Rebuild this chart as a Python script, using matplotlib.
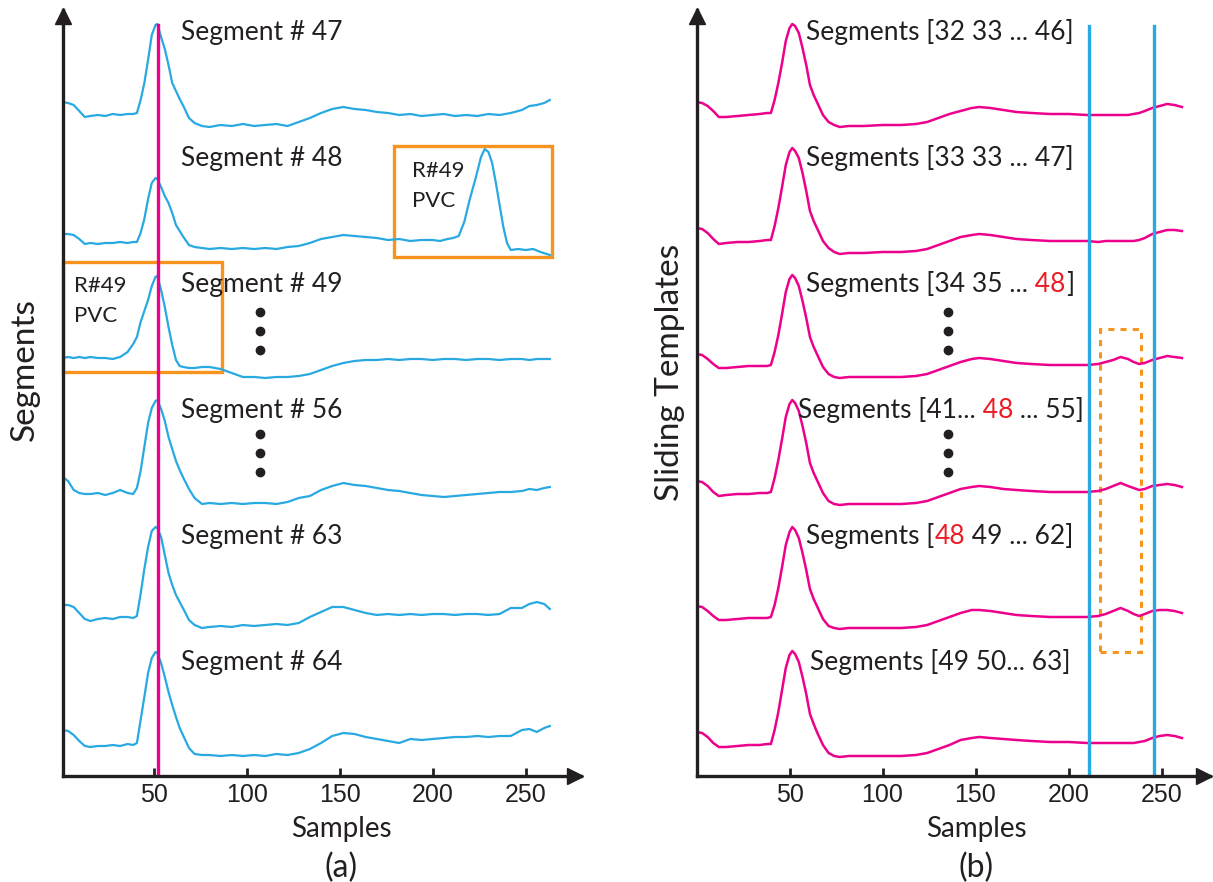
import numpy as np
import matplotlib.pyplot as plt
from matplotlib.transforms import Affine2D
from matplotlib.patches import Rectangle

# ---------------- data ----------------
# left panel: raw ECG segments (amplitude, arbitrary units, baseline ~0)
xl = [1, 4, 7, 10, 13, 16, 20, 24, 28, 32, 36, 39, 41, 43, 45, 47, 49, 51, 52, 54,
      56, 58, 60, 62, 64, 66, 69, 72, 76, 80, 86, 92, 98, 104, 110, 116, 122, 128, 134, 140,
      146, 152, 158, 164, 170, 176, 182, 188, 194, 200, 206, 212, 218, 224, 230, 236, 242, 248, 252, 256,
      260, 263]
seg47 = [13, 12, 10, 4, -2, -1, 0, -1, 1, 0, 1, 1, 2, 15, 32, 55, 80, 90, 91, 78,
         66, 50, 32, 24, 16, 9, -3, -8, -11, -12, -10, -11, -9, -11, -10, -9, -11, -7, -3, 2,
         6, 8, 6, 5, 3, 2, 0, 1, -1, 0, 1, -1, 0, -1, 1, 0, 2, 5, 9, 10,
         12, 15]
xl48 = xl[:50] + [204, 208, 211, 214, 217, 220, 223, 226, 228, 230, 232, 234, 236, 238, 240,
                  242, 246, 250, 254, 258, 263]
seg48 = [7, 7, 6, 2, -3, -2, -3, -2, -2, -1, -2, -1, -1, 8, 22, 42, 58, 63, 62, 54,
         45, 38, 28, 16, 10, 4, -4, -6, -7, -8, -7, -8, -7, -8, -7, -8, -6, -5, -2, 2,
         4, 6, 5, 4, 3, 1, 2, 0, 1, 1,
         0, 2, 3, 5, 19, 42, 62, 84, 92, 89, 78, 58, 36, 14, -2,
         -9, -8, -9, -8, -11, -14]
seg49 = [9, 10, 9, 10, 9, 10, 9, 9, 8, 10, 15, 23, 30, 45, 56, 67, 81, 90, 91, 77,
         60, 40, 22, 7, 1, 0, -1, -1, 0, 0, -2, -6, -10, -10, -11, -10, -10, -9, -7, -3,
         1, 4, 6, 7, 7, 8, 7, 8, 8, 7, 8, 8, 7, 8, 8, 7, 8, 8, 7, 8,
         8, 8]
seg56 = [16, 12, 3, 0, -1, -1, 0, -2, 0, 3, 0, -1, 5, 22, 46, 70, 85, 92, 93, 84,
         72, 56, 44, 32, 23, 15, 4, -5, -11, -10, -11, -10, -11, -10, -10, -11, -9, -5, -3, 3,
         7, 10, 8, 7, 5, 3, 2, 0, -2, -3, -4, -3, -2, -1, 0, 1, 1, 2, 4, 3,
         5, 6]
seg63 = [14, 14, 12, 6, 0, -2, 0, 1, 0, 2, 2, 1, 3, 25, 50, 72, 88, 92, 91, 82,
         64, 46, 34, 24, 17, 10, -1, -6, -9, -8, -7, -8, -6, -7, -6, -5, -6, -4, 2, 7,
         12, 12, 9, 6, 4, 5, 4, 5, 4, 5, 5, 4, 5, 5, 4, 5, 11, 11, 15, 17,
         15, 10]
seg64 = [15, 14, 10, 4, -1, -2, -1, -1, 0, -1, 1, 0, 2, 25, 48, 72, 87, 93, 92, 82,
         68, 53, 40, 28, 17, 9, -3, -9, -10, -10, -11, -10, -11, -10, -11, -9, -10, -8, -4, 2,
         9, 12, 11, 8, 6, 4, 2, 6, 5, 6, 7, 8, 8, 9, 8, 9, 9, 15, 16, 13,
         17, 19]
segments_x = [xl, xl48, xl, xl, xl, xl]
segments_y = [seg47, seg48, seg49, seg56, seg63, seg64]
segment_names = ['Segment # 47', 'Segment # 48', 'Segment # 49',
                 'Segment # 56', 'Segment # 63', 'Segment # 64']

# right panel: sliding templates
xr = [0, 3, 6, 9, 12, 16, 22, 28, 34, 38, 40, 42, 44, 46, 48, 50, 51.5, 53, 55, 57,
      59, 61, 63, 65, 68, 71, 74, 77, 82, 90, 100, 110, 118, 124, 130, 136, 142, 148, 152, 158,
      165, 172, 180, 190, 200, 210, 216, 220, 224, 228, 232, 235, 238, 241, 245, 249, 253, 257, 261]
tmpl1 = [13, 12, 9, 4, -2, -2, -1, 0, 1, 2, 2, 15, 32, 52, 74, 87, 91, 89, 82, 67,
         50, 30, 20, 12, 0, -7, -10, -12, -11, -11, -10, -10, -9, -7, -3, 1, 4, 7, 8, 7,
         5, 3, 2, 1, 1, 0, 0, 0, 0, 0, 0, 1, 2, 4, 7, 9, 11, 10, 8]
tmpl2 = [13, 12, 8, 2, -3, -2, -1, -1, 0, 1, 1, 15, 33, 54, 76, 89, 93, 90, 83, 68,
         50, 30, 20, 12, 0, -7, -11, -13, -12, -12, -11, -11, -10, -8, -4, 0, 4, 6, 7, 6,
         4, 2, 1, 0, 0, 0, -1, 0, 0, 0, 0, 0, 1, 3, 7, 9, 11, 11, 10]
tmpl3 = [13, 12, 8, 3, -1, -1, 0, 1, 1, 1, 2, 15, 32, 53, 75, 88, 92, 89, 81, 66,
         49, 30, 20, 12, 0, -7, -10, -11, -10, -10, -10, -10, -9, -7, -3, 1, 5, 8, 9, 8,
         6, 4, 3, 2, 2, 2, 3, 5, 7, 10, 8, 5, 3, 4, 7, 9, 11, 10, 9]
tmpl4 = [12, 11, 7, 1, -3, -2, -1, -1, 0, 0, 1, 15, 33, 54, 76, 89, 93, 90, 82, 67,
         50, 30, 20, 12, 0, -8, -11, -12, -11, -11, -11, -11, -10, -8, -4, 0, 4, 6, 7, 6,
         4, 3, 2, 1, 1, 1, 2, 4, 7, 10, 7, 5, 3, 4, 7, 8, 9, 8, 6]
tmpl5 = [13, 12, 8, 3, -1, -1, 0, 1, 1, 1, 2, 14, 31, 52, 74, 87, 92, 89, 81, 66,
         49, 30, 20, 12, 0, -7, -9, -10, -9, -9, -9, -9, -8, -6, -2, 2, 6, 9, 9, 8,
         6, 4, 3, 2, 2, 2, 3, 5, 8, 11, 8, 5, 3, 5, 8, 9, 9, 8, 6]
tmpl6 = [13, 12, 8, 2, -2, -2, -1, 0, 0, 1, 1, 15, 33, 55, 77, 90, 94, 91, 83, 68,
         51, 31, 21, 12, 0, -8, -11, -12, -11, -11, -11, -11, -10, -8, -4, 0, 5, 7, 8, 7,
         6, 5, 4, 3, 3, 2, 2, 2, 2, 2, 2, 2, 3, 4, 7, 9, 10, 9, 7]
templates_y = [tmpl1, tmpl2, tmpl3, tmpl4, tmpl5, tmpl6]

k_txt = '#231F20'
red = '#ED1C24'
template_names = [
    [('Segments [32 33 ... 46]', k_txt)],
    [('Segments [33 33 ... 47]', k_txt)],
    [('Segments [34 35 ...', k_txt), (' 48', red), (']', k_txt)],
    [('Segments [41...', k_txt), (' 48', red), (' ... 55]', k_txt)],
    [('Segments [', k_txt), ('48', red), (' 49 ... 62]', k_txt)],
    [('Segments [49 50... 63]', k_txt)],
]
template_label_x = [59.1, 59.1, 59.1, 54.7, 59.1, 61.2]

offsets = [661, 535, 409, 283, 157, 31]
xticks = [50, 100, 150, 200, 250]

blue = '#29A9E1'
magenta = '#EC008C'
orange = '#F7941D'

plt.rcParams['font.family'] = 'Lato'

fig = plt.figure(figsize=(12.13, 8.82), dpi=100)
W, H = 1213, 882
# x pixel = 60.6 + 1.86*s (left), 696.5 + 1.86*s (right)
axL = fig.add_axes([62.5 / W, 106 / H, 1.86 * 279 / W, 766 / H])
axR = fig.add_axes([696.5 / W, 106 / H, 1.86 * 276 / W, 766 / H])
axL.set_xlim(1, 280)
axR.set_xlim(0, 276)


def style_axes(ax):
    ax.set_ylim(0, 766)
    ax.set_facecolor('none')
    for s in ['top', 'right']:
        ax.spines[s].set_visible(False)
    for s in ['left', 'bottom']:
        ax.spines[s].set_linewidth(2.4)
        ax.spines[s].set_color(k_txt)
    ax.set_yticks([])
    ax.set_xticks(xticks)
    ax.tick_params(axis='x', direction='in', length=6, width=2, pad=5,
                   colors=k_txt, labelsize=18)
    for lab in ax.get_xticklabels():
        lab.set_fontfamily('Liberation Sans')
    # arrow heads
    ax.plot(1, 0, '>', ms=11, color=k_txt, clip_on=False,
            transform=ax.transAxes + Affine2D().translate(-6, 0))
    ax.plot(0, 1, '^', ms=11, color=k_txt, clip_on=False,
            transform=ax.transAxes + Affine2D().translate(0, -6))


style_axes(axL)
style_axes(axR)

# left panel traces
for xs, ys, off, name in zip(segments_x, segments_y, offsets, segment_names):
    axL.plot(xs, np.array(ys) + off, color=blue, lw=1.6)
    axL.text(64.5, off + 75, name, fontsize=19, color=k_txt, va='baseline')

axL.plot([52.3, 52.3], [0, 751], color=magenta, lw=2.4)

# PVC boxes
axL.add_patch(Rectangle((179, 519), 85, 111, fill=False, ec=orange, lw=2.4, clip_on=False))
axL.add_patch(Rectangle((1.1, 404), 85.5, 110, fill=False, ec=orange, lw=2.4, clip_on=False))
axL.text(189, 599, 'R#49', fontsize=16, color=k_txt, va='baseline')
axL.text(189, 569, 'PVC', fontsize=16, color=k_txt, va='baseline')
axL.text(7, 484, 'R#49', fontsize=16, color=k_txt, va='baseline')
axL.text(7, 454, 'PVC', fontsize=16, color=k_txt, va='baseline')

for ax, xd in [(axL, 107), (axR, 135.2)]:
    ax.plot([xd] * 3, [464, 445, 426], 'o', color=k_txt, ms=6)
    ax.plot([xd] * 3, [342, 323, 304], 'o', color=k_txt, ms=6)

# right panel traces
for ys, off in zip(templates_y, offsets):
    axR.plot(xr, np.array(ys) + off, color=magenta, lw=1.8)

renderer = fig.canvas.get_renderer()
for parts, off, x0 in zip(template_names, offsets, template_label_x):
    tr = axR.transData
    for s, c in parts:
        t = axR.text(x0, off + 75, s, fontsize=19, color=c, va='baseline', transform=tr)
        w = t.get_window_extent(renderer=renderer).width
        tr = tr + Affine2D().translate(w, 0)

for xv in [211.2, 245.8]:
    axR.plot([xv, xv], [0, 750], color=blue, lw=2.4)
axR.add_patch(Rectangle((216.7, 124), 22.1, 323, fill=False, ec=orange, lw=2.2,
                        ls=(0, (2, 2))))

fig.text(25 / W, 1 - 370 / H, 'Segments', rotation=90, fontsize=24,
         ha='center', va='center', color=k_txt)
fig.text(670 / W, 1 - 372 / H, 'Sliding Templates', rotation=90, fontsize=24,
         ha='center', va='center', color=k_txt)
for xc, lab in [(341, '(a)'), (976, '(b)')]:
    fig.text(xc / W, 1 - 829 / H, 'Samples', fontsize=20, ha='center', va='center',
             color=k_txt)
    fig.text(xc / W, 1 - 868 / H, lab, fontsize=23, ha='center', va='center',
             color=k_txt)

fig.savefig('out.png', dpi=100)
